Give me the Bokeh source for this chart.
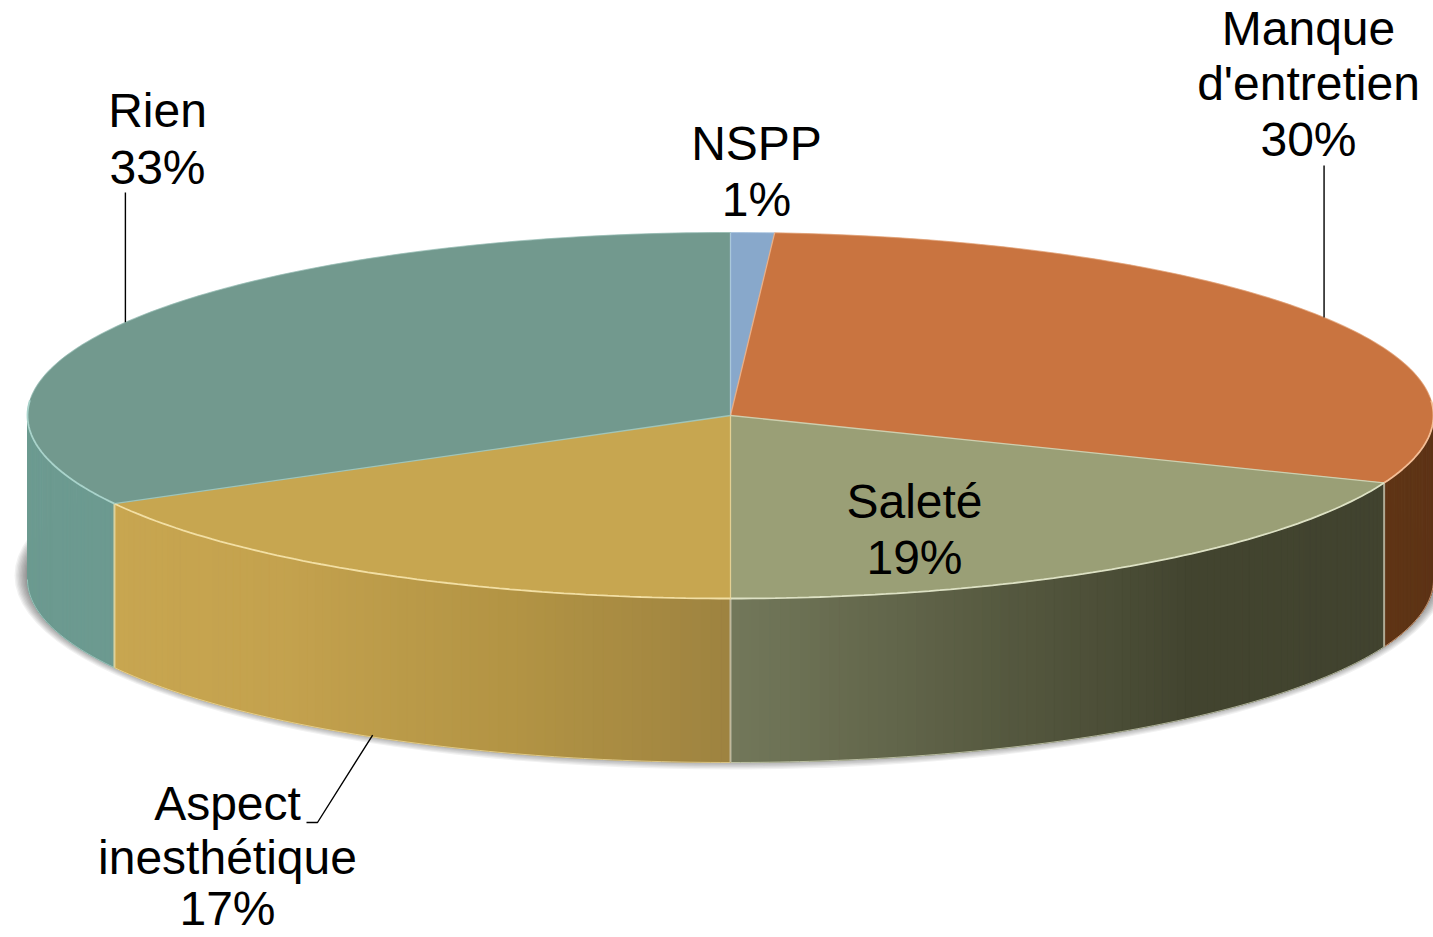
import numpy as np
from bokeh.plotting import figure
from bokeh.models import Range1d
from bokeh.core.properties import value
from bokeh.embed import file_html
from bokeh.resources import INLINE

categories = ["NSPP", "Manque d'entretien", "Saleté", "Aspect inesthétique", "Rien"]
shares = [1, 30, 19, 17, 33]
label_lines = [["NSPP"], ["Manque", "d'entretien"], ["Saleté"], ["Aspect", "inesthétique"], ["Rien"]]
top_colors = ["#88A8CB", "#C97440", "#9A9F76", "#C7A650", "#72998E"]
rim_colors = ["#B8D4EE", "#F4BE96", "#DDE1C4", "#F2DFA4", "#A9D3CB"]
wall_stops = [
    [(0.0, "#6F8DAE"), (1.0, "#6F8DAE")],
    [(0.0, "#5C3316"), (1.0, "#5F3415")],
    [(0.0, "#41432F"), (0.4, "#42442F"), (0.66, "#55583F"), (1.0, "#73785A")],
    [(0.0, "#9E8340"), (0.3, "#B39444"), (0.65, "#C4A24E"), (1.0, "#C8A650")],
    [(0.0, "#6C9A90"), (1.0, "#6C9A90")],
]
baselines = [[161, 217], [46, 101, 157], [519, 575], [821, 875, 926], [128, 185]]
centers = [756, 1308, 914, 227, 157]

CX, CY, RX, RY, DEPTH = 730.0, 415.0, 703.0, 183.0, 164.0
FONT = "Liberation Sans"
FS = "48px"

p = figure(width=1433, height=937, x_range=Range1d(0, 1433), y_range=Range1d(937, 0),
           x_axis_type=None, y_axis_type=None, toolbar_location=None,
           output_backend="svg", min_border=0, outline_line_color=None,
           background_fill_color="white", border_fill_color="white")
p.grid.visible = False


def pt(a):
    r = np.radians(a)
    return CX + RX * np.sin(r), CY - RY * np.cos(r)


def hex2rgb(h):
    return np.array([int(h[i:i + 2], 16) for i in (1, 3, 5)], float)


def mix(stops, t):
    for (t0, c0), (t1, c1) in zip(stops, stops[1:]):
        if t <= t1:
            f = (t - t0) / max(t1 - t0, 1e-9)
            c = hex2rgb(c0) * (1 - f) + hex2rgb(c1) * f
            return "#%02x%02x%02x" % tuple(int(round(v)) for v in c)
    return stops[-1][1]


# slice angles, clockwise from the top of the ellipse
edges = np.concatenate([[0], np.cumsum(shares)]) * 360.0 / sum(shares)

# soft shadow under the pie
for k in range(9):
    p.ellipse(x=[CX], y=[CY + 160], width=[2 * (RX + 13 - 1.4 * k)], height=[2 * (RY + 11 - 1.2 * k)],
              fill_color="#000000", fill_alpha=0.055, line_color=None)

# walls (visible half only, 90..270 degrees)
for i in range(len(shares)):
    a0, a1 = max(edges[i], 90.0), min(edges[i + 1], 270.0)
    if a1 <= a0:
        continue
    n = max(2, int((a1 - a0) / 0.8))
    ang = np.linspace(a0, a1, n + 1)
    xs, ys, cols = [], [], []
    for u, v in zip(ang[:-1], ang[1:]):
        (xa, ya), (xb, yb) = pt(u), pt(v)
        xs.append([xa, xb, xb, xa])
        ys.append([ya, yb, yb + DEPTH, ya + DEPTH])
        cols.append(mix(wall_stops[i], (0.5 * (u + v) - a0) / (a1 - a0)))
    p.patches(xs, ys, fill_color=cols, line_color=cols, line_width=1)
    # bottom rim
    bx, by = pt(ang)
    p.line(bx, by + DEPTH, line_color=rim_colors[i], line_width=1, line_alpha=0.7)

# vertical seams between walls
for i in range(1, len(shares)):
    a = edges[i]
    if 90.0 < a < 270.0:
        x, y = pt(a)
        p.line([x, x], [y, y + DEPTH], line_color=rim_colors[i - 1] if a > 180 else "#C9C5B0",
               line_width=2, line_alpha=0.8)

# top surface
for i in range(len(shares)):
    ang = np.linspace(edges[i], edges[i + 1], max(3, int(shares[i] * 4)))
    ex, ey = pt(ang)
    p.patch(np.r_[CX, ex], np.r_[CY, ey], fill_color=top_colors[i], line_color=top_colors[i], line_width=0.5)
for i in range(len(shares)):
    ang = np.linspace(edges[i], edges[i + 1], max(3, int(shares[i] * 4)))
    front = (ang >= 85.0) & (ang <= 275.0)
    ex, ey = pt(ang)
    if front.sum() >= 2:
        p.line(ex[front], ey[front], line_color=rim_colors[i], line_width=1.8)
    back_l = ang <= 85.0
    back_r = ang >= 275.0
    for mask in (back_l, back_r):
        if mask.sum() >= 2:
            p.line(ex[mask], ey[mask], line_color=rim_colors[i], line_width=1.2, line_alpha=0.35)
    xe, ye = pt(edges[i])
    p.line([CX, xe], [CY, ye], line_color=rim_colors[i], line_width=1.3, line_alpha=0.75)

# leader lines, anchored on the middle of each slice
mids = 0.5 * (edges[:-1] + edges[1:])
x1, y1 = pt(mids[1])
p.line([x1, x1], [165, y1], line_color="#000000", line_width=1.4)
x4, y4 = pt(mids[4])
p.line([x4, x4], [192, y4], line_color="#000000", line_width=1.4)
x3, y3 = pt(mids[3])
p.line([x3, 317, 306], [y3 + DEPTH - 2, 822, 822], line_color="#000000", line_width=1.4)

# labels
for lines, base, cx, share in zip(label_lines, baselines, centers, shares):
    texts = lines + [f"{share}%"]
    p.text(x=[cx] * len(texts), y=base, text=texts, text_font=value(FONT), text_font_size=value(FS),
           text_align="center", text_baseline="alphabetic", text_color="#000000", y_offset=-18)

open("out.html", "w").write(file_html(p, INLINE))
